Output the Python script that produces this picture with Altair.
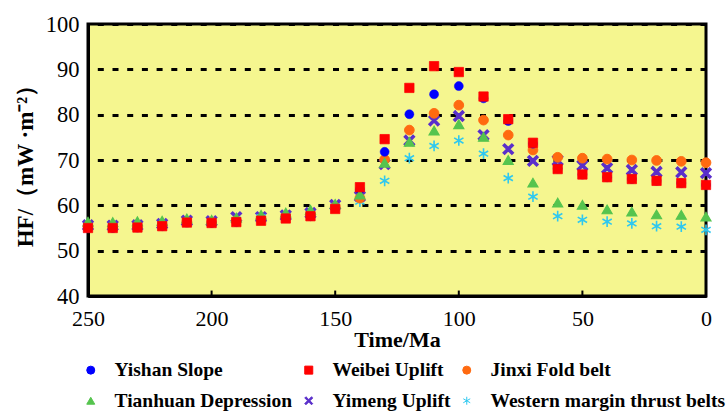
import altair as alt
import pandas as pd

times = [250, 240, 230, 220, 210, 200, 190, 180, 170, 160, 150, 140, 130,
         120, 110, 100, 90, 80, 70, 60, 50, 40, 30, 20, 10, 0]

yishan = [55.0, 55.0, 55.1, 55.4, 56.2, 56.1, 56.3, 56.8, 57.2, 57.6, 59.4, 63.5, 71.8,
          80.1, 84.5, 86.3, 83.6, 78.6, 73.6, 68.1, 66.8, 66.2, 65.8, 65.4, 64.9, 64.5]
weibei = [55.0, 55.0, 55.1, 55.4, 56.2, 56.1, 56.3, 56.6, 57.1, 57.6, 59.2, 64.0, 74.6,
          85.9, 90.7, 89.4, 84.0, 79.0, 73.8, 68.0, 66.8, 66.2, 65.8, 65.4, 64.9, 64.5]
jinxi = [55.3, 55.2, 55.3, 55.6, 56.4, 56.3, 56.6, 57.0, 57.4, 57.9, 59.6, 61.6, 70.1,
         76.6, 80.3, 82.1, 78.8, 75.5, 72.2, 70.6, 70.4, 70.2, 70.0, 69.9, 69.7, 69.4]
tianhuan = [56.4, 56.3, 56.5, 56.6, 57.1, 56.8, 57.3, 57.9, 58.4, 59.0, 60.3, 62.4, 69.4,
            74.0, 76.5, 77.9, 75.1, 70.0, 65.0, 60.6, 60.1, 59.1, 58.6, 58.0, 57.9, 57.5]
yimeng = [55.6, 55.5, 55.6, 55.9, 56.6, 56.5, 57.4, 57.4, 57.8, 58.3, 60.1, 62.0, 69.1,
          74.3, 78.7, 79.7, 75.5, 72.4, 69.8, 69.9, 68.8, 68.2, 67.8, 67.4, 67.3, 67.1]
western = [55.3, 55.2, 55.3, 55.6, 56.4, 56.3, 56.8, 57.4, 57.6, 58.0, 59.8, 60.8, 65.4,
           70.4, 73.1, 74.3, 71.4, 66.0, 61.9, 57.6, 56.8, 56.4, 56.0, 55.4, 55.3, 54.6]

legend_order = ["Yishan Slope", "Weibei Uplift", "Jinxi Fold belt",
                "Tianhuan Depression", "Yimeng Uplift", "Western margin thrust belts"]
colors = ["#0000FF", "#FF0000", "#FF6A10", "#55C44E", "#5A2FCB", "#2EC8F0"]
X_PATH = "M-1,-0.7L-0.7,-1L0,-0.3L0.7,-1L1,-0.7L0.3,0L1,0.7L0.7,1L0,0.3L-0.7,1L-1,0.7L-0.3,0Z"
AST_PATH = "M0,-1L0,1M-0.87,-0.5L0.87,0.5M-0.87,0.5L0.87,-0.5"
shapes = ["circle", "square", "circle", "triangle-up", X_PATH, AST_PATH]
sizes = [72, 115, 72, 100, 81, 115]
stroke_widths = [1, 1, 1, 1, 0.5, 1.6]

# drawing order (last on top)
draw_order = [("Yimeng Uplift", yimeng), ("Western margin thrust belts", western),
              ("Jinxi Fold belt", jinxi), ("Yishan Slope", yishan),
              ("Tianhuan Depression", tianhuan), ("Weibei Uplift", weibei)]

rows = []
for name, vals in draw_order:
    for t, v in zip(times, vals):
        rows.append({"time": t, "hf": v, "series": name})
df = pd.DataFrame(rows)

tick_times = [200, 150, 100, 50]
ticks_df = pd.DataFrame({"time": tick_times})

FONT = "Liberation Serif"

x_scale = alt.Scale(domain=[0, 250], reverse=True, nice=False)
y_scale = alt.Scale(domain=[40, 100], nice=False, zero=False)

x_axis = alt.Axis(values=[250, 200, 150, 100, 50, 0], title="Time/Ma",
                  labelFont=FONT, labelFontSize=22, labelColor="black",
                  labelPadding=12, labelFlush=False, ticks=False, grid=False,
                  domainColor="black", domainWidth=3,
                  titleFont=FONT, titleFontSize=22, titleFontWeight="bold",
                  titleColor="black", titlePadding=0)
y_axis = alt.Axis(values=[40, 50, 60, 70, 80, 90, 100], title="HF/（mW ·m⁻²）",
                  labelFont=FONT, labelFontSize=22.5, labelColor="black",
                  labelPadding=9, ticks=False, grid=True,
                  gridColor="black", gridWidth=3, gridDash=[6, 8.7], gridOpacity=1,
                  domainColor="black", domainWidth=3,
                  titleFont=FONT, titleFontSize=23, titleFontWeight="bold",
                  titleColor="black", titlePadding=8)

leg = alt.Legend(title=None, orient="none", legendX=-7, legendY=336,
                 columns=3, direction="horizontal",
                 labelFont=FONT, labelFontSize=19.5, labelFontWeight="bold",
                 labelColor="black", labelOffset=14, labelLimit=400,
                 symbolSize=64, symbolStrokeWidth=1,
                 columnPadding=6, rowPadding=10, padding=0)

cscale = alt.Scale(domain=legend_order, range=colors)
# size / stroke width scales use reversed domain so their (hidden) legends stay separate
rev_order = legend_order[::-1]

points = alt.Chart(df).mark_point(opacity=1, filled=False).encode(
    x=alt.X("time:Q", scale=x_scale, axis=x_axis),
    y=alt.Y("hf:Q", scale=y_scale, axis=y_axis),
    fill=alt.Fill("series:N", scale=cscale, legend=leg),
    stroke=alt.Stroke("series:N", scale=cscale, legend=leg),
    shape=alt.Shape("series:N", scale=alt.Scale(domain=legend_order, range=shapes), legend=leg),
    size=alt.Size("series:N", scale=alt.Scale(domain=rev_order, range=sizes[::-1]), legend=None),
    strokeWidth=alt.StrokeWidth("series:N", scale=alt.Scale(domain=rev_order, range=stroke_widths[::-1]), legend=None),
)

ticks = alt.Chart(ticks_df).mark_rule(color="black", strokeWidth=2).encode(
    x=alt.X("time:Q", scale=x_scale),
    y=alt.datum(40),
    y2=alt.datum(41.2),
)

chart = alt.layer(ticks, points).properties(
    width=618, height=272,
    padding={"left": 88, "top": 24, "right": 21, "bottom": 115},
    autosize=alt.AutoSizeParams(type="none"),
    background="white",
).configure_view(stroke="black", strokeWidth=3, fill="#F5F68F")

chart.save("out.html", embed_options={"renderer": "svg", "actions": False})
